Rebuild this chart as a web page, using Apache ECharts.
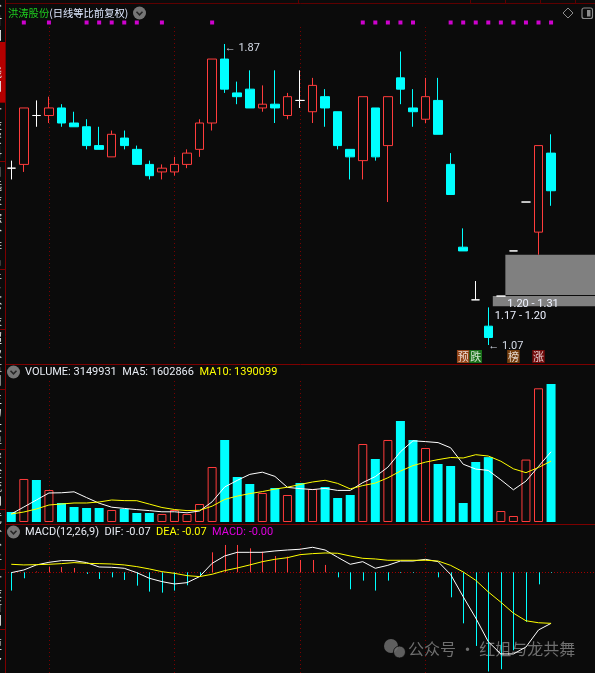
<!DOCTYPE html>
<html>
<head>
<meta charset="utf-8">
<script src="https://cdn.jsdelivr.net/npm/echarts@6/dist/echarts.min.js"></script>
<style>
  html, body { margin: 0; padding: 0; background: #0b0b0b; }
  #chart { width: 595px; height: 673px; }
</style>
</head>
<body>
<div id="chart"></div>
<script>
// ---- daily bars (前复权) ----
const opens  = [1.54,1.55,1.68,1.68,1.70,1.66,1.65,1.60,1.57,1.62,1.59,1.55,1.53,1.53,1.55,1.59,1.66,1.83,1.74,1.75,1.70,1.71,1.68,1.72,1.69,1.73,1.69,1.59,1.56,1.70,1.60,1.78,1.70,1.67,1.72,1.55,1.33,1.19,1.12,1.20,1.32,1.45,1.37,1.58];
const closes = [1.54,1.70,1.68,1.70,1.66,1.65,1.60,1.59,1.63,1.60,1.55,1.52,1.54,1.55,1.58,1.66,1.83,1.75,1.73,1.70,1.71,1.70,1.73,1.72,1.76,1.70,1.60,1.57,1.73,1.57,1.73,1.75,1.69,1.73,1.63,1.47,1.32,1.19,1.09,1.20,1.32,1.45,1.60,1.48];
const lows   = [1.51,1.53,1.65,1.66,1.65,1.65,1.59,1.59,1.57,1.59,1.55,1.51,1.51,1.52,1.54,1.57,1.64,1.74,1.71,1.70,1.69,1.66,1.67,1.70,1.66,1.65,1.59,1.51,1.51,1.56,1.45,1.71,1.65,1.66,1.63,1.47,1.32,1.19,1.07,1.20,1.32,1.45,1.31,1.44];
const highs  = [1.56,1.70,1.72,1.73,1.71,1.69,1.67,1.65,1.64,1.64,1.60,1.56,1.55,1.57,1.59,1.67,1.83,1.87,1.77,1.80,1.76,1.80,1.74,1.80,1.78,1.75,1.69,1.59,1.73,1.70,1.73,1.85,1.75,1.78,1.78,1.58,1.38,1.24,1.17,1.20,1.32,1.45,1.60,1.63];

// ---- volume and its moving averages ----
const volumes = [228000,982000,959000,730000,434000,342000,320000,320000,274000,297000,205000,205000,183000,274000,183000,411000,1255000,1872000,1027000,867000,662000,776000,616000,890000,753000,799000,548000,616000,1780000,1438000,1872000,2305000,1872000,1689000,1324000,1278000,434000,1370000,1481000,251000,137000,1425000,3051000,3149931];
const volMA5  = [183000,342000,502000,662000,667000,689000,557000,429000,338000,310000,283000,260000,233000,233000,210000,251000,461000,799000,950000,1087000,1137000,1041000,790000,762000,740000,767000,721000,721000,899000,1036000,1251000,1602000,1853000,1835000,1812000,1694000,1319000,1208000,1177000,963000,735000,933000,1269000,1602866];
const volMA10 = [183000,228000,297000,388000,411000,434000,434000,457000,502000,488000,486000,409000,331000,285000,260000,267000,361000,516000,591000,648000,694000,751000,794000,856000,913000,952000,881000,756000,831000,888000,1009000,1162000,1287000,1367000,1424000,1472000,1461000,1536000,1506000,1387000,1214000,1126000,1245000,1390099];

// ---- MACD(12,26,9) ----
const dif = [-0.0005,0.0032,0.0101,0.0137,0.0160,0.0160,0.0133,0.0073,0.0069,0.0055,-0.0005,-0.0082,-0.0128,-0.0160,-0.0142,-0.0059,0.0123,0.0224,0.0274,0.0274,0.0274,0.0293,0.0306,0.0316,0.0343,0.0306,0.0206,0.0110,0.0146,0.0055,0.0096,0.0155,0.0155,0.0178,0.0146,-0.0030,-0.0335,-0.0627,-0.0952,-0.1120,-0.1120,-0.1025,-0.0791,-0.0700];
const dea = [0.0110,0.0101,0.0105,0.0110,0.0119,0.0133,0.0123,0.0119,0.0114,0.0101,0.0078,0.0046,0.0009,-0.0014,-0.0046,-0.0059,-0.0027,0.0023,0.0059,0.0101,0.0146,0.0178,0.0201,0.0242,0.0256,0.0265,0.0261,0.0224,0.0192,0.0183,0.0165,0.0165,0.0165,0.0165,0.0155,0.0095,0.0005,-0.0110,-0.0270,-0.0410,-0.0560,-0.0665,-0.0692,-0.0700];
const macdBars = [-0.0251,-0.0082,0.0010,0.0078,0.0073,0.0059,-0.0023,-0.0091,-0.0069,-0.0105,-0.0183,-0.0265,-0.0279,-0.0251,-0.0178,-0.0037,0.0274,0.0375,0.0375,0.0329,0.0283,0.0224,0.0215,0.0169,0.0169,0.0101,-0.0069,-0.0233,-0.0114,-0.0251,-0.0114,-0.0010,-0.0010,0.0005,-0.0069,-0.0343,-0.0700,-0.1010,-0.1360,-0.1330,-0.1070,-0.0680,-0.0165,-0.0010];

// ---- annotations (bar numbers are 1-based) ----
const signalBars = [2,4,7,8,9,10,11,13,17,29,30,31,32,33,36,37,38,39,40,41,42,43,44];
const monthStartBars = [4,14,24,34];
const eventTags = [
  { bar: 37, text: '预', color: '#b5531b' },
  { bar: 38, text: '跌', color: '#1d8a1d' },
  { bar: 41, text: '榜', color: '#8e4a0e' },
  { bar: 43, text: '涨', color: '#8c0a0a' }
];
const priceZones = [
  { fromBar: 40, low: 1.20, high: 1.31 },
  { fromBar: 39, low: 1.17, high: 1.20 }
];
const sideTabs = [
  { label: '分时图', y0: 0, y1: 42 },
  { label: 'K线图', y0: 42, y1: 102, active: true },
  { label: '个股资料', y0: 102, y1: 161 },
  { label: '自选股', y0: 161, y1: 209 },
  { label: '综合排名', y0: 209, y1: 269 },
  { label: '牛叉诊股', y0: 269, y1: 329 },
  { label: '超级盘口', y0: 329, y1: 389 },
  { label: '主力大单', y0: 389, y1: 449 },
  { label: '资金流向', y0: 449, y1: 509 },
  { label: '竞价分析', y0: 509, y1: 569 },
  { label: '个股新闻', y0: 569, y1: 629 },
  { label: '更多', y0: 629, y1: 673 }
];

const SLOTS = 47;                       // visible bar slots (last three empty)
const days = Array.from({ length: SLOTS }, (_, i) => String(i + 1));
const n = opens.length;

const BG = '#0b0b0b', RED = '#ff3c3c', CYAN = '#00ffff', YELLOW = '#ffff00', MAGENTA = '#ff00ff';
const FRAME = '#7d0000', GRID_DOT = '#7a0000';
const NUM_FONT = 'Roboto, "Liberation Sans", sans-serif';
const CJK_FONT = '"Noto Sans CJK SC", "Noto Sans", sans-serif';
const BODY_W = 9;

// candlestick items; flat bars drawn white
const candleData = opens.map((o, i) => {
  const item = { value: [o, closes[i], lows[i], highs[i]] };
  if (o === closes[i]) {
    item.itemStyle = { color: BG, color0: BG, borderColor: '#ffffff', borderColor0: '#ffffff' };
  }
  return item;
});

// volume colour follows the bar, flat bars compare with the previous close
const volData = volumes.map((v, i) => {
  let up;
  if (closes[i] > opens[i]) up = true;
  else if (closes[i] < opens[i]) up = false;
  else up = i > 0 && closes[i] >= closes[i - 1];
  return {
    value: v,
    itemStyle: up ? { color: BG, borderColor: RED, borderWidth: 1 } : { color: CYAN, borderWidth: 0 }
  };
});

const maxHigh = Math.max(...highs), hiIdx = highs.indexOf(maxHigh);
const minLow = Math.min(...lows), loIdx = lows.indexOf(minLow);

// dotted month separators, drawn underneath the marks of each pane
const separatorSeries = (axisIdx) => ({
  type: 'line', xAxisIndex: axisIdx, yAxisIndex: axisIdx, data: [], z: 0, silent: true,
  markLine: {
    z: 0, silent: true, symbol: 'none', animation: false,
    label: { show: false },
    lineStyle: { color: GRID_DOT, type: [1, 3], width: 1 },
    emphasis: { disabled: true },
    data: monthStartBars.map(b => ({ xAxis: days[b - 1] }))
  }
});

const grids = [
  { left: 5, right: 0, top: 18, height: 9 },     // signal dots
  { left: 5, right: 0, top: 27, height: 321 },   // price
  { left: 5, right: 0, top: 350, height: 13 },   // event tags
  { left: 5, right: 0, top: 380, height: 142 },  // volume
  { left: 5, right: 0, top: 544, height: 129 }   // MACD
].map(g => Object.assign({ outerBoundsMode: 'none', containLabel: false, show: false }, g));

const xAxes = grids.map((g, i) => ({
  type: 'category', gridIndex: i, data: days, show: false, boundaryGap: true
}));
const yAxes = [
  { gridIndex: 0, type: 'value', min: 0, max: 1, show: false },
  { gridIndex: 1, type: 'value', min: 1.06202, max: 1.91518, show: false },
  { gridIndex: 2, type: 'value', min: 0, max: 1, show: false },
  { gridIndex: 3, type: 'value', min: 0, max: 3241000, show: false },
  { gridIndex: 4, type: 'value', min: -0.13813, max: 0.03882, show: false }
];

const fmt2 = v => v.toFixed(2);
const extremeLabel = (txt, dy) => ({
  show: true, position: 'right', distance: 0, offset: [0, dy],
  formatter: '← ' + txt, color: '#d6dce8', fontSize: 11, fontFamily: NUM_FONT
});

const series = [
  separatorSeries(1),
  separatorSeries(3),
  separatorSeries(4),
  {
    type: 'scatter', xAxisIndex: 0, yAxisIndex: 0, symbol: 'rect', symbolSize: 4,
    itemStyle: { color: MAGENTA }, silent: true,
    data: signalBars.map(b => [b - 1, 0.5])
  },
  {
    type: 'custom', xAxisIndex: 1, yAxisIndex: 1, silent: true, z: 1,
    encode: { x: 0, y: [1, 2] },
    data: priceZones.map(z => [z.fromBar - 1, z.low, z.high]),
    renderItem(params, api) {
      const idx = api.value(0), lo = api.value(1), hi = api.value(2);
      const top = api.coord([idx, hi]);
      const bot = api.coord([idx, lo]);
      const x0 = top[0] + BODY_W / 2;
      const xEnd = params.coordSys.x + params.coordSys.width;
      return {
        type: 'group',
        children: [
          { type: 'rect', z2: 0, shape: { x: x0, y: top[1], width: xEnd - x0, height: bot[1] - top[1] - 1 },
            style: { fill: '#808080' } },
          { type: 'text', z2: 10, x: x0 + 2, y: bot[1] + 3,
            style: { text: fmt2(lo) + ' - ' + fmt2(hi), fill: '#eef2ff', fontSize: 11, fontFamily: NUM_FONT,
                     align: 'left', verticalAlign: 'top', textAlign: 'left', textVerticalAlign: 'top' } }
        ]
      };
    }
  },
  {
    type: 'candlestick', xAxisIndex: 1, yAxisIndex: 1, barWidth: BODY_W, z: 3,
    itemStyle: { color: BG, color0: CYAN, borderColor: RED, borderColor0: CYAN, borderColorDoji: '#ffffff', borderWidth: 1 },
    emphasis: { disabled: true },
    data: candleData,
    markPoint: {
      silent: true, symbol: 'circle', symbolSize: 0, animation: false,
      data: [
        { coord: [hiIdx, maxHigh], value: maxHigh, label: extremeLabel(fmt2(maxHigh), 4) },
        { coord: [loIdx, minLow], value: minLow, label: extremeLabel(fmt2(minLow), 1) }
      ]
    }
  },
  {
    type: 'scatter', xAxisIndex: 2, yAxisIndex: 2, symbol: 'rect', symbolSize: [12.5, 13], silent: true,
    data: eventTags.map(t => ({
      value: [t.bar - 1, 0.5], itemStyle: { color: t.color },
      label: { show: true, position: 'inside', formatter: t.text, color: '#ffffff', fontSize: 11, fontFamily: CJK_FONT }
    }))
  },
  {
    type: 'bar', xAxisIndex: 3, yAxisIndex: 3, barWidth: BODY_W, data: volData, z: 2,
    emphasis: { disabled: true }
  },
  {
    type: 'line', xAxisIndex: 3, yAxisIndex: 3, data: volMA5, showSymbol: false, symbol: 'none',
    lineStyle: { color: '#ffffff', width: 1 }, emphasis: { disabled: true }, z: 4
  },
  {
    type: 'line', xAxisIndex: 3, yAxisIndex: 3, data: volMA10, showSymbol: false, symbol: 'none',
    lineStyle: { color: YELLOW, width: 1 }, emphasis: { disabled: true }, z: 4
  },
  {
    type: 'custom', xAxisIndex: 4, yAxisIndex: 4, silent: true, z: 2,
    encode: { x: 0, y: 1 },
    data: macdBars.map((v, i) => [i, v]),
    renderItem(params, api) {
      const p0 = api.coord([api.value(0), 0]);
      const p1 = api.coord([api.value(0), api.value(1)]);
      const x = Math.round(p0[0]) + 0.5;
      return { type: 'line', shape: { x1: x, y1: p0[1], x2: x, y2: p1[1] },
               style: { stroke: api.value(1) >= 0 ? RED : CYAN, lineWidth: 1 } };
    }
  },
  {
    type: 'line', xAxisIndex: 4, yAxisIndex: 4, data: dif, showSymbol: false, symbol: 'none',
    lineStyle: { color: '#ffffff', width: 1 }, emphasis: { disabled: true }, z: 4,
    markLine: {
      z: 1, silent: true, symbol: 'none', label: { show: false }, animation: false,
      lineStyle: { color: '#a00000', type: [1, 2], width: 1 },
      data: [{ yAxis: 0 }]
    }
  },
  {
    type: 'line', xAxisIndex: 4, yAxisIndex: 4, data: dea, showSymbol: false, symbol: 'none',
    lineStyle: { color: YELLOW, width: 1 }, emphasis: { disabled: true }, z: 4
  }
];

// ---- frame, headers, sidebar ----
const chevronIcon = (cx, cy) => ({
  type: 'group', x: cx, y: cy, silent: true,
  children: [
    { type: 'circle', shape: { cx: 0, cy: 0, r: 6.5 }, style: { fill: '#767676' } },
    { type: 'polyline', shape: { points: [[-3, -1.2], [0, 1.8], [3, -1.2]] }, style: { stroke: '#262626', lineWidth: 1.6, fill: null } }
  ]
});
const txt = (x, y, text, rich) => ({
  type: 'text', x, y, silent: true,
  style: { text, rich, align: 'left', verticalAlign: 'middle', textAlign: 'left', textVerticalAlign: 'middle',
           fontSize: 11, fontFamily: NUM_FONT, fill: '#ffffff' }
});

const last = n - 1;
const graphics = [];

// sidebar tabs (cut off at the left edge)
sideTabs.forEach(t => {
  if (t.active) graphics.push({ type: 'rect', silent: true, shape: { x: 0, y: t.y0, width: 5, height: t.y1 - t.y0 }, style: { fill: '#b40000' } });
  graphics.push({ type: 'line', silent: true, shape: { x1: 0, y1: t.y1 + 0.5, x2: 5, y2: t.y1 + 0.5 }, style: { stroke: FRAME, lineWidth: 1 } });
  graphics.push({
    type: 'text', x: -4, y: (t.y0 + t.y1) / 2, silent: true,
    style: { text: t.label.split('').join('\n'), fill: '#e6e6e6', fontSize: 12, fontFamily: CJK_FONT, lineHeight: 14,
             align: 'center', verticalAlign: 'middle', textAlign: 'center', textVerticalAlign: 'middle' }
  });
});

graphics.push(
  { type: 'line', silent: true, shape: { x1: 5.5, y1: 0, x2: 5.5, y2: 673 }, style: { stroke: FRAME, lineWidth: 1 } },
  { type: 'line', silent: true, shape: { x1: 6, y1: 3.5, x2: 595, y2: 3.5 }, style: { stroke: '#5e0000', lineWidth: 1 } },
  ...[298, 470, 505, 540, 575].map(x => ({ type: 'line', silent: true, shape: { x1: x + 0.5, y1: 0, x2: x + 0.5, y2: 3 }, style: { stroke: '#5e0000', lineWidth: 1 } })),
  { type: 'line', silent: true, shape: { x1: 6, y1: 364.5, x2: 595, y2: 364.5 }, style: { stroke: FRAME, lineWidth: 1 } },
  { type: 'line', silent: true, shape: { x1: 6, y1: 524.5, x2: 595, y2: 524.5 }, style: { stroke: FRAME, lineWidth: 1 } },

  // price header
  txt(8, 13, '{g|洪涛股份}{w|(日线等比前复权)}', {
    g: { fill: '#1fcf1f', fontSize: 10.3, fontFamily: CJK_FONT },
    w: { fill: '#dfe8ff', fontSize: 10.3, fontFamily: CJK_FONT }
  }),
  chevronIcon(139.5, 13),
  { type: 'polygon', silent: true, shape: { points: [[568, 8], [573, 13], [568, 18], [563, 13]] }, style: { stroke: '#8c8c8c', fill: null, lineWidth: 1 } },
  { type: 'rect', silent: true, shape: { x: 582, y: 8, width: 10.5, height: 10.5, r: 2 }, style: { stroke: '#8c8c8c', fill: null, lineWidth: 1.2 } },
  { type: 'rect', silent: true, shape: { x: 587, y: 10, width: 3.5, height: 6.5 }, style: { fill: '#8c8c8c' } },

  // volume header
  chevronIcon(13.5, 372),
  txt(25, 372, `{w|VOLUME: ${volumes[last]}  MA5: ${Math.round(volMA5[last])}  }{y|MA10: ${Math.round(volMA10[last])}}`, {
    w: { fill: '#e8ecf4', fontSize: 11, fontFamily: NUM_FONT },
    y: { fill: YELLOW, fontSize: 11, fontFamily: NUM_FONT }
  }),

  // MACD header
  chevronIcon(13.5, 532),
  txt(25, 532, `{w|MACD(12,26,9)  DIF: ${fmt2(dif[last])}  }{y|DEA: ${fmt2(dea[last])}  }{m|MACD: ${fmt2(macdBars[last])}}`, {
    w: { fill: '#e8ecf4', fontSize: 11, fontFamily: NUM_FONT },
    y: { fill: YELLOW, fontSize: 11, fontFamily: NUM_FONT },
    m: { fill: '#e000e0', fontSize: 11, fontFamily: NUM_FONT }
  }),

  // account watermark
  {
    type: 'group', silent: true, children: [
      { type: 'circle', shape: { cx: 391, cy: 646, r: 7 }, style: { fill: '#6e6e6e', opacity: 0.85 } },
      { type: 'circle', shape: { cx: 399.5, cy: 652, r: 6 }, style: { fill: '#6e6e6e', stroke: '#0b0b0b', lineWidth: 1, opacity: 0.85 } },
      { type: 'text', x: 408, y: 649, style: { text: '公众号 · 红姐与龙共舞', fill: '#7a7a7a', opacity: 0.9, fontSize: 16,
        fontFamily: CJK_FONT, align: 'left', verticalAlign: 'middle', textAlign: 'left', textVerticalAlign: 'middle' } }
    ]
  }
);

const chart = echarts.init(document.getElementById('chart'), null, { renderer: 'canvas' });
chart.setOption({
  backgroundColor: BG,
  animation: false,
  grid: grids,
  xAxis: xAxes,
  yAxis: yAxes,
  series,
  graphic: { elements: graphics }
});
</script>
</body>
</html>
